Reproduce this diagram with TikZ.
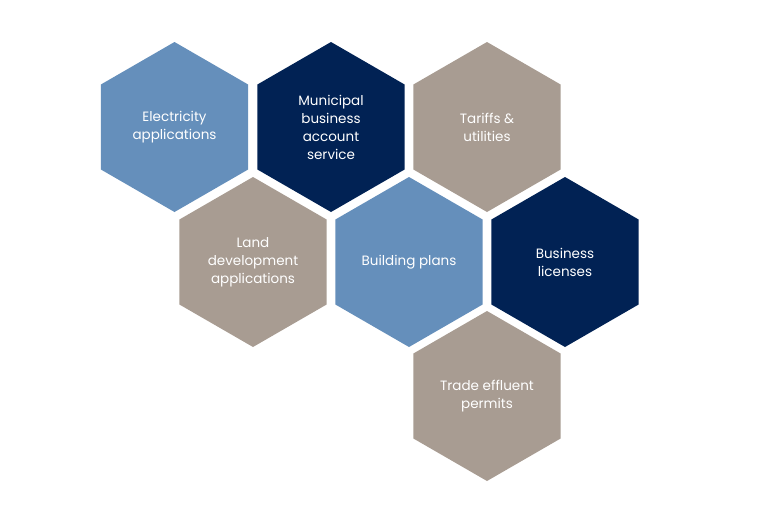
\documentclass[tikz,border=0pt]{standalone}
\usepackage{fontspec}
\setmainfont{Poppins}
\usetikzlibrary{shapes.geometric}
\definecolor{hexblue}{RGB}{101,143,187}
\definecolor{hexnavy}{RGB}{1,34,84}
\definecolor{hextaupe}{RGB}{168,156,146}
\tikzset{
  hexcell/.style={regular polygon, regular polygon sides=6, shape border rotate=30,
    minimum size=170pt, inner sep=0pt, outer sep=0pt, draw=none, text=white,
    align=center, font=\fontsize{13.5}{18}\selectfont},
}

\begin{document}
\begin{tikzpicture}[x=1pt,y=-1pt]
\useasboundingbox (0,0) rectangle (760,504);
% top row
\node[hexcell,fill=hexblue] (elec) at (174.5,127) {Electricity\\applications};
\node[hexcell,fill=hexnavy] (muni) at (331,127) {Municipal\\business\\account\\service};
\node[hexcell,fill=hextaupe] (tariff) at (487,127) {Tariffs \&\\utilities};
% middle row
\node[hexcell,fill=hextaupe] (land) at (253,262) {Land\\development\\applications};
\node[hexcell,fill=hexblue] (build) at (409,262) {Building plans};
\node[hexcell,fill=hexnavy] (licence) at (565,262) {Business\\licenses};
% bottom
\node[hexcell,fill=hextaupe] (trade) at (487,396) {Trade effluent\\permits};
\end{tikzpicture}
\end{document}
